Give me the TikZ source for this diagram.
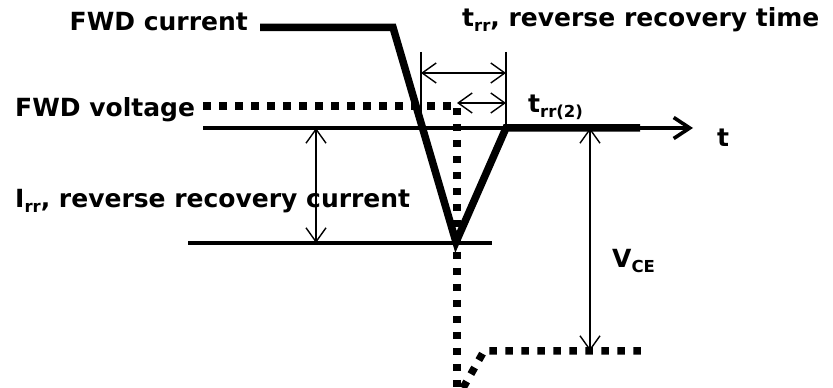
\documentclass[tikz,border=0pt]{standalone}
\usepackage{fontspec}
\setmainfont{DejaVu Sans}
\usepackage{tikz}
\usetikzlibrary{arrows.meta}
\usepackage{tkz-euclide}

\newcommand{\lowtxt}[1]{\raisebox{-0.35ex}{\fontsize{16.5}{16.5}\selectfont #1}}

\begin{document}
\begin{tikzpicture}[x=10pt, y=10pt, font=\fontsize{25}{28}\selectfont\bfseries,
                    wave/.style={line width=7.5pt, line cap=butt, line join=miter},
                    axis/.style={line width=3.6pt, line cap=butt},
                    mark line/.style={line width=2pt, line cap=butt},
                    dim/.style={line width=1.4pt, line cap=butt, {Straight Barb[length=14pt,width=20pt]}-{Straight Barb[length=14pt,width=20pt]}},
                    volt/.style={line width=7.5pt, line cap=butt, line join=miter, dash pattern=on 7.5pt off 8.5pt},
                    lbl/.style={inner sep=0pt, anchor=base west}]
                \useasboundingbox (0,0) rectangle (83.3,38.8);
                % current of the diode
                \tkzDefPoints{26/36.05/I_1, 39.3/36.05/I_2, 45.6/14.6/I_3, 50.6/26/I_4, 64/26/I_5}
                % voltage of the diode
                \tkzDefPoints{20.3/28.2/U_1, 45.7/28.2/U_2, 45.7/0/U_3, 46.3/0/U_4, 48.4/3.7/U_5, 64.6/3.7/U_6}
                % axes and measures
                \tkzDefPoints{20.3/26/O, 69.3/26/T, 18.8/14.5/P_1, 49.2/14.5/P_2, 31.6/26/R_1, 31.6/14.5/R_2}
                \tkzDefPoints{59/26/S_1, 59/3.7/S_2, 42.1/33.6/A_1, 42.1/26/A_2, 50.6/33.6/B_1}
                \tkzDefPoints{42.1/31.5/M_1, 50.6/31.5/M_2, 45.7/28.5/N_1, 50.6/28.5/N_2}
                \tkzDrawSegments[axis](P_1,P_2)
                \tkzDrawSegments[mark line](A_1,A_2 B_1,I_4)
                \tkzDrawSegment[axis, -{Straight Barb[length=16pt,width=21pt]}](O,T)
                \tkzDrawPolySeg[volt](U_1,U_2,U_3)
                \tkzDrawPolySeg[volt](U_4,U_5,U_6)
                \tkzDrawPolySeg[wave](I_1,I_2,I_3,I_4,I_5)
                \tkzDrawSegments[dim](R_1,R_2 S_1,S_2 M_1,M_2 N_1,N_2)
                \node (fwdcur) [lbl, anchor=base east] at (24.8,35.7) {FWD current};
                \node (trrtxt) [lbl] at (46.2,36.1) {t\lowtxt{rr}, reverse recovery time};
                \node (fwdvolt) [lbl] at (1.5,27.1) {FWD voltage};
                \node (irrtxt) [lbl] at (1.5,18.0) {I\lowtxt{rr}, reverse recovery current};
                \node (trrtwo) [lbl] at (52.8,27.5) {t\lowtxt{rr(2)}};
                \node (ttxt) [lbl] at (71.7,24.1) {t};
                \node (vcetxt) [lbl] at (61.2,12.0) {V\lowtxt{CE}};
            \end{tikzpicture}
\end{document}
